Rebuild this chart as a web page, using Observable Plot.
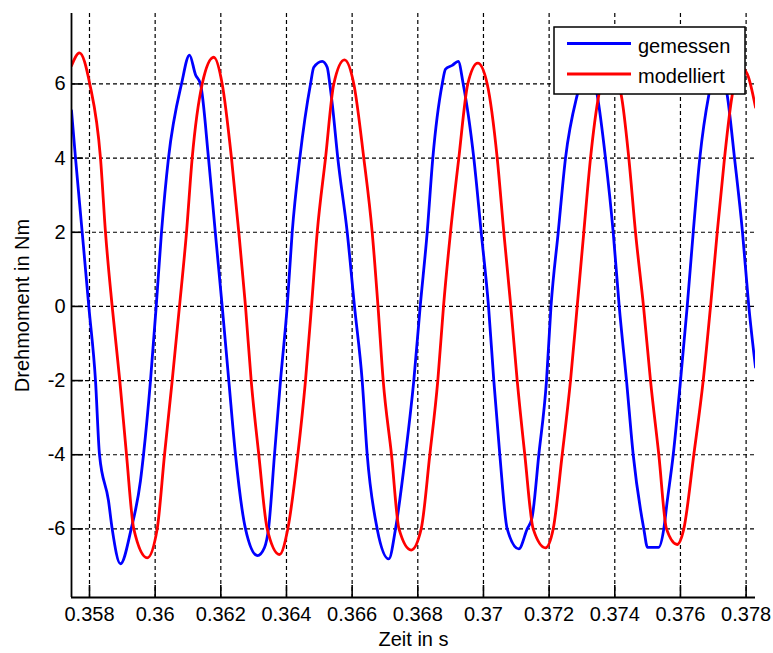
<!DOCTYPE html>
<html>
<head>
<meta charset="utf-8">
<script src="https://cdn.jsdelivr.net/npm/d3@7"></script>
<script src="https://cdn.jsdelivr.net/npm/@observablehq/plot@0.6"></script>
<style>
  html, body { margin: 0; padding: 0; background: #fff; }
  #wrap { position: relative; width: 773px; height: 653px; }
  #legend { position: absolute; left: 0; top: 0; pointer-events: none; }
</style>
</head>
<body>
<div id="wrap"></div>
<script>
// ---- axis ticks ----
const xTicks = [0.358, 0.36, 0.362, 0.364, 0.366, 0.368, 0.37, 0.372, 0.374, 0.376, 0.378];
const xTickLabels = ["0.358", "0.36", "0.362", "0.364", "0.366", "0.368", "0.37", "0.372", "0.374", "0.376", "0.378"];
const yTicks = [-6, -4, -2, 0, 2, 4, 6];
const yTickLabels = ["-6", "-4", "-2", "0", "2", "4", "6"];
const xDomain = [0.357452, 0.378286];
const yDomain = [-7.85, 7.9];

// ---- series: gemessen (measured) ----
const timeGemessen = [
  0.357452, 0.357574, 0.357778, 0.357979, 0.358183, 0.358305, 0.358579, 0.358691, 0.358944,
  0.359270, 0.359553, 0.359645, 0.359858, 0.360032, 0.360193, 0.360406, 0.360802, 0.361046,
  0.361229, 0.361381, 0.361625, 0.361832, 0.362042, 0.362243, 0.362447, 0.362752, 0.363117,
  0.363331, 0.363452, 0.363635, 0.363818, 0.364022, 0.364174, 0.364406, 0.364732, 0.364832,
  0.365088, 0.365240, 0.365320, 0.365402, 0.365563, 0.365850, 0.366072, 0.366306, 0.366459,
  0.366763, 0.367117, 0.367321, 0.367625, 0.367878, 0.368073, 0.368286, 0.368457, 0.368743,
  0.368844, 0.369048, 0.369231, 0.369383, 0.369706, 0.369931, 0.370154, 0.370315, 0.370498,
  0.370723, 0.371077, 0.371332, 0.371479, 0.371686, 0.371920, 0.372057, 0.372277, 0.372499,
  0.372855, 0.373200, 0.373465, 0.373717, 0.373952, 0.374135, 0.374357, 0.374561, 0.374884,
  0.374997, 0.375332, 0.375493, 0.375591, 0.375780, 0.376002, 0.376206, 0.376389, 0.376590,
  0.376864, 0.377129, 0.377424, 0.377647, 0.377890, 0.378082, 0.378286
];
const torqueGemessen = [
  5.28, 4.0, 2.0, 0.0, -2.0, -4.0, -5.24, -6.0, -6.94,
  -6.0, -4.7, -4.0, -2.0, 0.0, 2.0, 4.0, 6.0, 6.78,
  6.25, 6.0, 4.0, 2.0, 0.0, -2.0, -4.0, -6.0, -6.72,
  -6.5, -6.0, -4.0, -2.0, 0.0, 2.0, 4.0, 6.0, 6.45,
  6.61, 6.45, 6.0, 5.4, 4.0, 2.0, 0.0, -2.0, -4.0,
  -6.0, -6.81, -6.0, -4.0, -2.0, 0.0, 2.0, 4.0, 6.0,
  6.4, 6.5, 6.61, 6.0, 4.0, 2.0, 0.0, -2.0, -4.0,
  -6.0, -6.54, -6.0, -5.7, -4.0, -2.0, 0.0, 2.0, 4.0,
  5.7, 6.6, 5.7, 4.0, 2.0, 0.0, -2.0, -4.0, -6.0,
  -6.5, -6.5, -6.0, -5.3, -4.0, -2.0, 0.0, 2.0, 4.0,
  5.7, 6.6, 5.7, 4.0, 2.0, 0.0, -1.64
];

// ---- series: modelliert (model) ----
const timeModelliert = [
  0.357452, 0.357695, 0.358009, 0.358335, 0.358487, 0.358691, 0.358923, 0.359127, 0.359349,
  0.359758, 0.360062, 0.360285, 0.360519, 0.360741, 0.360955, 0.361128, 0.361433, 0.361786,
  0.362042, 0.362325, 0.362548, 0.362752, 0.362925, 0.363157, 0.363413, 0.363787, 0.364040,
  0.364345, 0.364579, 0.364762, 0.364936, 0.365189, 0.365441, 0.365767, 0.366051, 0.366355,
  0.366611, 0.366788, 0.366946, 0.367199, 0.367427, 0.367799, 0.368103, 0.368366, 0.368609,
  0.368783, 0.368996, 0.369249, 0.369523, 0.369828, 0.370114, 0.370419, 0.370620, 0.370833,
  0.371028, 0.371259, 0.371515, 0.371890, 0.372124, 0.372398, 0.372651, 0.372855, 0.373056,
  0.373261, 0.373513, 0.373839, 0.374196, 0.374427, 0.374631, 0.374875, 0.375088, 0.375341,
  0.375575, 0.375901, 0.376102, 0.376407, 0.376693, 0.376916, 0.377120, 0.377342, 0.377577,
  0.377829, 0.378033, 0.378286
];
const torqueModelliert = [
  6.49, 6.84, 6.0, 4.0, 2.0, 0.0, -2.0, -4.0, -6.0,
  -6.78, -6.0, -4.0, -2.0, 0.0, 2.0, 4.0, 6.0, 6.72,
  6.0, 4.0, 2.0, 0.0, -2.0, -4.0, -6.0, -6.69, -6.0,
  -4.0, -2.0, 0.0, 2.0, 4.0, 6.0, 6.65, 6.0, 4.0,
  2.0, 0.0, -2.0, -4.0, -6.0, -6.57, -6.0, -4.0, -2.0,
  0.0, 2.0, 4.0, 6.0, 6.56, 6.0, 4.0, 2.0, 0.0,
  -2.0, -4.0, -6.0, -6.51, -6.0, -4.0, -2.0, 0.0, 2.0,
  4.0, 5.7, 6.5, 5.7, 4.0, 2.0, 0.0, -2.0, -4.0,
  -6.0, -6.42, -6.0, -4.0, -2.0, 0.0, 2.0, 4.0, 5.7,
  6.45, 6.27, 5.37
];

const seriesNames = ["gemessen", "modelliert"];
const seriesColors = ["#0000ff", "#ff0000"];

const gemessen = timeGemessen.map((t, i) => ({t, v: torqueGemessen[i]}));
const modelliert = timeModelliert.map((t, i) => ({t, v: torqueModelliert[i]}));

const W = 773, H = 653, mL = 71, mR = 18, mT = 13, mB = 56;
const plotW = W - mL - mR, plotH = H - mT - mB;
const tickLen = 12;
const gridStyle = {stroke: "#000", strokeOpacity: 1, strokeWidth: 1.2, strokeDasharray: "4,3"};

const chart = Plot.plot({
  width: W,
  height: H,
  marginLeft: mL,
  marginRight: mR,
  marginTop: mT,
  marginBottom: mB,
  style: {fontFamily: "'Liberation Sans', Arial, sans-serif", fontSize: "20px", color: "#000", background: "#fff"},
  x: {domain: xDomain},
  y: {domain: yDomain},
  marks: [
    Plot.gridX(xTicks, gridStyle),
    Plot.gridY(yTicks, gridStyle),
    Plot.tickX(xTicks, {x: d => d, insetTop: plotH - tickLen, stroke: "#000", strokeWidth: 1.6}),
    Plot.tickY(yTicks, {y: d => d, insetRight: plotW - tickLen, stroke: "#000", strokeWidth: 1.6}),
    Plot.line(gemessen, {x: "t", y: "v", stroke: seriesColors[0], strokeWidth: 2.8, curve: "monotone-x", clip: true}),
    Plot.line(modelliert, {x: "t", y: "v", stroke: seriesColors[1], strokeWidth: 2.8, curve: "monotone-x", clip: true}),
    Plot.ruleX([xDomain[0]], {stroke: "#000", strokeWidth: 1.8}),
    Plot.ruleY([yDomain[0]], {stroke: "#000", strokeWidth: 1.8}),
    Plot.axisX(xTicks, {
      tickSize: 0, tickPadding: 9,
      tickFormat: d => xTickLabels[xTicks.indexOf(d)],
      label: "Zeit in s", labelAnchor: "center", labelArrow: "none", labelOffset: 48
    }),
    Plot.axisY(yTicks, {
      tickSize: 0, tickPadding: 6,
      tickFormat: d => yTickLabels[yTicks.indexOf(d)],
      label: "Drehmoment in Nm", labelAnchor: "center", labelArrow: "none", labelOffset: 57
    })
  ]
});

const wrap = document.getElementById("wrap");
wrap.appendChild(chart);

// ---- legend overlay ----
const ns = "http://www.w3.org/2000/svg";
const leg = document.createElementNS(ns, "svg");
leg.setAttribute("id", "legend");
leg.setAttribute("width", W);
leg.setAttribute("height", H);
const box = document.createElementNS(ns, "rect");
box.setAttribute("x", 554); box.setAttribute("y", 27);
box.setAttribute("width", 191); box.setAttribute("height", 67);
box.setAttribute("fill", "#fff"); box.setAttribute("stroke", "#000"); box.setAttribute("stroke-width", 1.5);
leg.appendChild(box);
const rowsY = [43.5, 74];
seriesNames.forEach((name, i) => {
  const ln = document.createElementNS(ns, "line");
  ln.setAttribute("x1", 567); ln.setAttribute("x2", 631);
  ln.setAttribute("y1", rowsY[i]); ln.setAttribute("y2", rowsY[i]);
  ln.setAttribute("stroke", seriesColors[i]); ln.setAttribute("stroke-width", 3);
  leg.appendChild(ln);
  const tx = document.createElementNS(ns, "text");
  tx.setAttribute("x", 638); tx.setAttribute("y", rowsY[i] + 9);
  tx.setAttribute("font-family", "'Liberation Sans', Arial, sans-serif");
  tx.setAttribute("font-size", 20);
  tx.setAttribute("fill", "#000");
  tx.textContent = name;
  leg.appendChild(tx);
});
wrap.appendChild(leg);
</script>
</body>
</html>
